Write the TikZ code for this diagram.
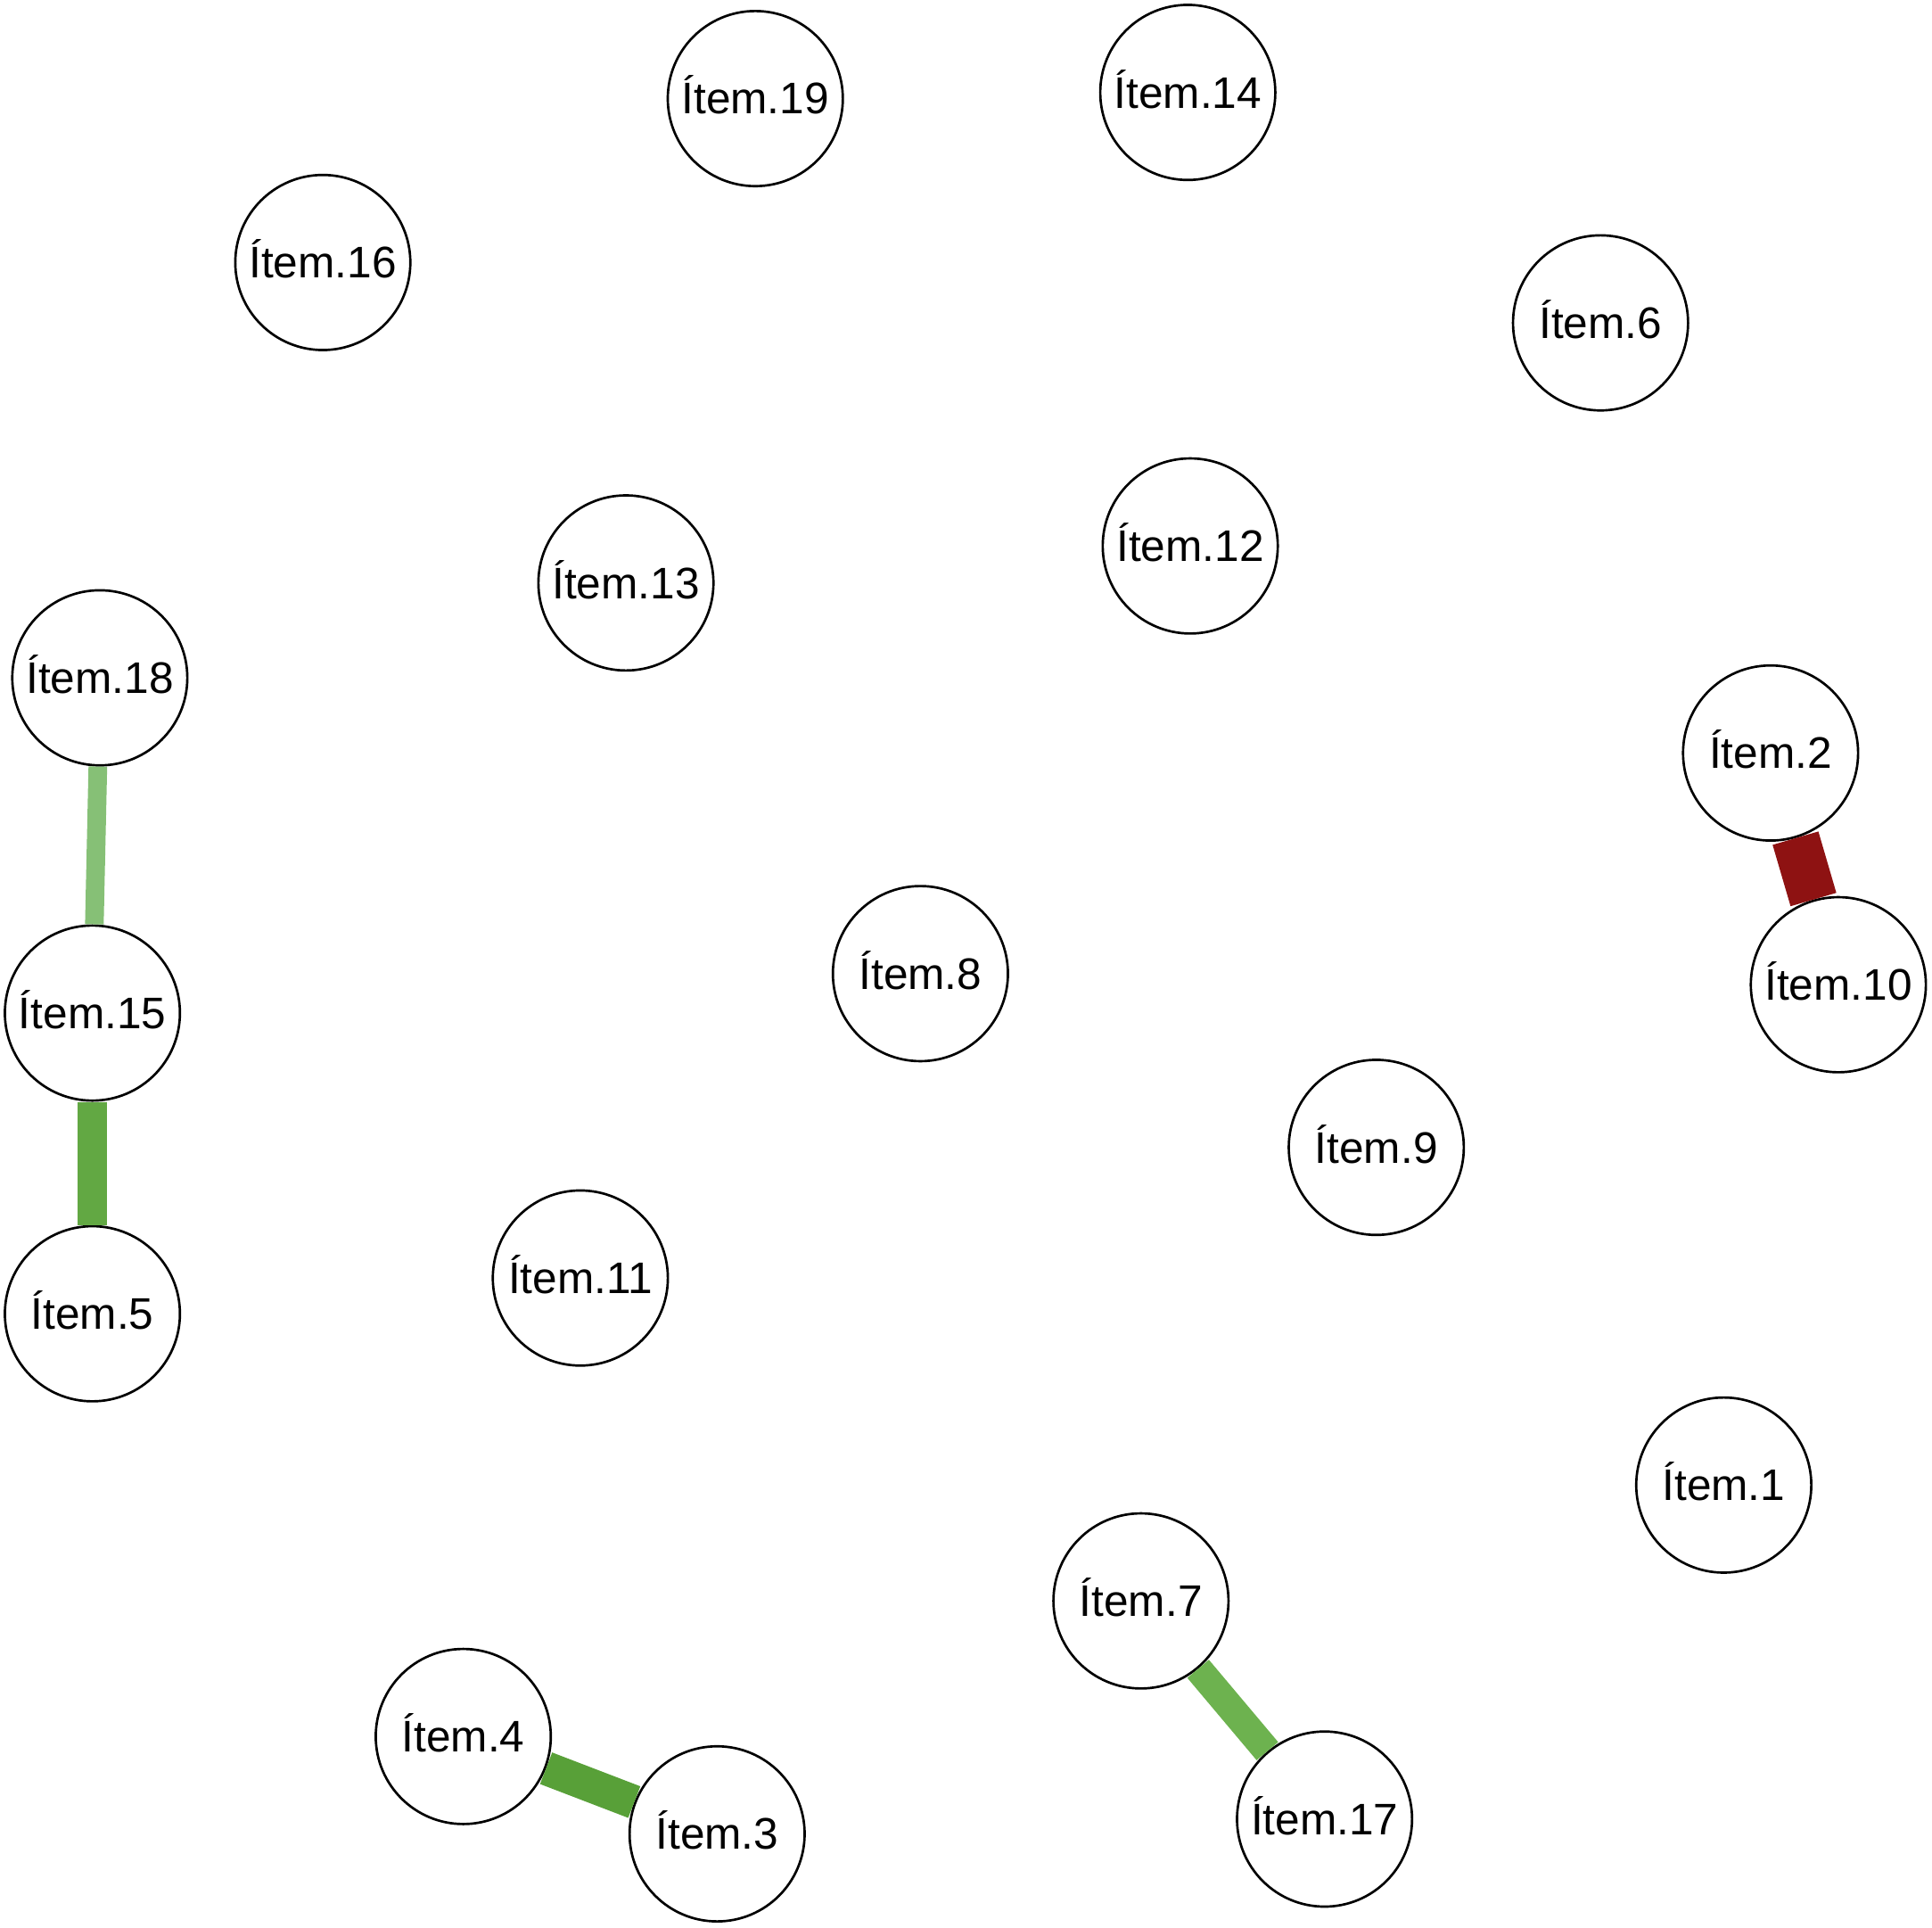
\documentclass[tikz,border=0pt]{standalone}
\usepackage{fontspec}
\setmainfont{Liberation Sans}
\definecolor{egA}{HTML}{62A843}
\definecolor{egB}{HTML}{86C076}
\definecolor{egC}{HTML}{58A038}
\definecolor{egD}{HTML}{6DB24F}
\definecolor{erA}{HTML}{8E1212}
\tikzset{
  item/.style={circle, draw=black, line width=0.55pt, fill=white, minimum size=1.42cm, inner sep=0pt, text depth=1.7pt, font=\fontsize{10.2}{12}\selectfont},
  edge/.style={line cap=butt}
}
\begin{document}
\begin{tikzpicture}[x=0.01cm,y=-0.01cm]
\useasboundingbox (0,0) rectangle (1568,1564);
\node[item] (i19) at (613,80) {Ítem.19};
\node[item] (i14) at (964,75) {Ítem.14};
\node[item] (i16) at (262,213) {Ítem.16};
\node[item] (i6) at (1299,262) {Ítem.6};
\node[item] (i13) at (508,473) {Ítem.13};
\node[item] (i12) at (966,443) {Ítem.12};
\node[item] (i18) at (81,550) {Ítem.18};
\node[item] (i2) at (1437,611) {Ítem.2};
\node[item] (i10) at (1492,799) {Ítem.10};
\node[item] (i8) at (747,790) {Ítem.8};
\node[item] (i15) at (75,822) {Ítem.15};
\node[item] (i9) at (1117,931) {Ítem.9};
\node[item] (i11) at (471,1037) {Ítem.11};
\node[item] (i5) at (75,1066) {Ítem.5};
\node[item] (i1) at (1399,1205) {Ítem.1};
\node[item] (i7) at (926,1299) {Ítem.7};
\node[item] (i4) at (376,1409) {Ítem.4};
\node[item] (i3) at (582,1488) {Ítem.3};
\node[item] (i17) at (1075,1476) {Ítem.17};
\draw[edge, egB, line width=4.3pt] (i18) -- (i15);
\draw[edge, egA, line width=6.8pt] (i15) -- (i5);
\draw[edge, erA, line width=11pt] (i2) -- (i10);
\draw[edge, egC, line width=7.8pt] (i4) -- (i3);
\draw[edge, egD, line width=6.5pt] (i7) -- (i17);
\end{tikzpicture}
\end{document}
